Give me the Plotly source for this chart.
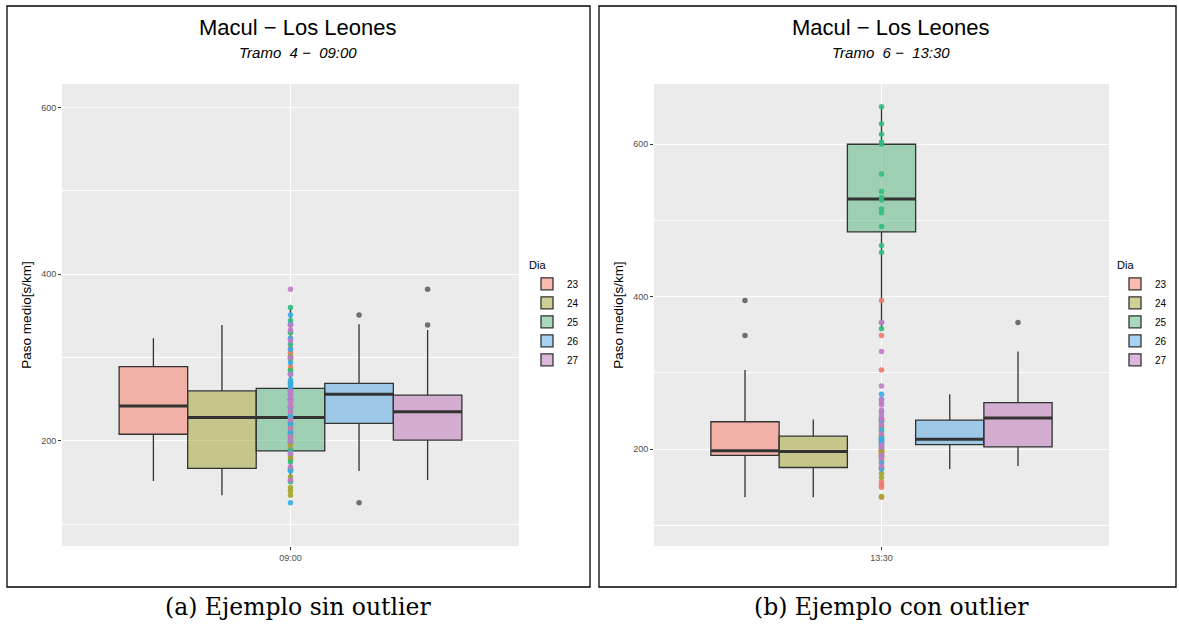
import plotly.graph_objects as go

# ---------------- data ----------------
days = ["23", "24", "25", "26", "27"]
box_colors = ["#F97761", "#A1A12D", "#51B379", "#4FA5E5", "#BB6FB3"]
point_colors = ["#F07A6A", "#A3A52A", "#2DBE7E", "#35ACE6", "#C27BC8"]

# Panel (a): Tramo 4 - 09:00
a_q1 = [208, 167, 188, 221, 201]
a_median = [242, 228, 228, 256, 235]
a_q3 = [289, 260, 263, 269, 255]
a_lower = [152, 135, 151, 164, 153]
a_upper = [323, 339, 360, 340, 333]
a_outliers = [[], [], [], [351, 126], [382, 339]]
a_points = [
    [323, 311, 306, 300, 289, 280, 270, 262, 250, 242, 235, 228, 215, 208, 198, 190, 183, 178, 165, 152],
    [339, 330, 302, 298, 285, 260, 250, 240, 229, 222, 216, 210, 204, 195, 180, 167, 157, 144, 140, 135],
    [360, 344, 330, 316, 300, 284, 270, 263, 250, 240, 228, 220, 210, 200, 189, 175, 165, 151],
    [351, 340, 323, 310, 294, 280, 273, 268, 265, 260, 256, 250, 240, 230, 221, 210, 200, 185, 164, 126],
    [382, 339, 333, 320, 300, 280, 260, 255, 250, 246, 241, 235, 225, 215, 205, 200, 185, 169, 153],
]

# Panel (b): Tramo 6 - 13:30
b_q1 = [192, 176, 485, 206, 203]
b_median = [198, 197, 528, 213, 241]
b_q3 = [236, 217, 600, 238, 261]
b_lower = [137, 137, 358, 174, 178]
b_upper = [304, 239, 649, 272, 328]
b_outliers = [[395, 349], [], [], [], [366]]
b_points = [
    [395, 349, 304, 240, 236, 230, 210, 200, 198, 197, 196, 194, 192, 190, 157, 153, 150, 137],
    [239, 229, 224, 218, 216, 210, 205, 200, 198, 197, 195, 190, 185, 176, 175, 168, 163, 138],
    [649, 627, 613, 603, 600, 561, 538, 530, 527, 515, 510, 492, 467, 458, 366, 358],
    [272, 265, 249, 238, 236, 225, 215, 214, 213, 212, 210, 207, 206, 203, 190, 182, 174],
    [366, 328, 283, 265, 261, 258, 251, 245, 241, 240, 232, 220, 205, 203, 192, 188, 178],
]

panels = [
    dict(tick="09:00", title="Macul − Los Leones", sub="Tramo  4 −  09:00",
         q1=a_q1, med=a_median, q3=a_q3, lo=a_lower, hi=a_upper,
         out=a_outliers, pts=a_points, caption="(a) Ejemplo sin outlier"),
    dict(tick="13:30", title="Macul − Los Leones", sub="Tramo  6 −  13:30",
         q1=b_q1, med=b_median, q3=b_q3, lo=b_lower, hi=b_upper,
         out=b_outliers, pts=b_points, caption="(b) Ejemplo con outlier"),
]

# ---------------- styling ----------------
W, H = 1179, 627
BOXW = 0.18
LINE = "#333333"
SANS = "Liberation Sans, Arial, sans-serif"


def hex_rgba(h, a):
    h = h.lstrip("#")
    return "rgba(%d,%d,%d,%.2f)" % (int(h[0:2], 16), int(h[2:4], 16), int(h[4:6], 16), a)


fig = go.Figure()

for p_i, P in enumerate(panels):
    xa = "x" if p_i == 0 else "x2"
    ya = "y" if p_i == 0 else "y2"
    leg = "legend" if p_i == 0 else "legend2"
    for i, d in enumerate(days):
        off = (i - 2) * BOXW
        fig.add_trace(go.Box(
            x=[off], q1=[P["q1"][i]], median=[P["med"][i]], q3=[P["q3"][i]],
            lowerfence=[P["lo"][i]], upperfence=[P["hi"][i]],
            width=BOXW, whiskerwidth=0, boxpoints=False,
            fillcolor=hex_rgba(box_colors[i], 0.5),
            line=dict(color=LINE, width=1.3),
            name=d, legend=leg, legendgroup=leg + d, showlegend=True,
            xaxis=xa, yaxis=ya, hoverinfo="skip",
        ))
    for i, d in enumerate(days):
        off = (i - 2) * BOXW
        fig.add_trace(go.Scatter(
            x=[off - BOXW / 2, off + BOXW / 2], y=[P["med"][i], P["med"][i]],
            mode="lines", line=dict(color=LINE, width=3),
            showlegend=False, xaxis=xa, yaxis=ya, hoverinfo="skip",
        ))
    for i, d in enumerate(days):
        if P["out"][i]:
            off = (i - 2) * BOXW
            fig.add_trace(go.Scatter(
                x=[off] * len(P["out"][i]), y=P["out"][i], mode="markers",
                marker=dict(color="rgba(70,70,70,0.75)", size=5.5),
                showlegend=False, xaxis=xa, yaxis=ya, hoverinfo="skip",
            ))
    for i, d in enumerate(days):
        fig.add_trace(go.Scatter(
            x=[0] * len(P["pts"][i]), y=P["pts"][i], mode="markers",
            marker=dict(color=hex_rgba(point_colors[i], 0.9), size=5.5),
            showlegend=False, xaxis=xa, yaxis=ya, hoverinfo="skip",
        ))

ydom = [(H - 546) / H, (H - 84) / H]
common_x = dict(range=[-0.6, 0.6], tickmode="array", tickvals=[0], showgrid=True,
                gridcolor="white", gridwidth=1.2, zeroline=False, ticks="outside",
                ticklen=3, tickcolor=LINE, tickfont=dict(family=SANS, size=9, color="#4D4D4D"),
                showline=False, fixedrange=True)
common_y = dict(tickmode="linear", tick0=0, dtick=200, showgrid=True, gridcolor="white",
                gridwidth=1.2, zeroline=False, ticks="outside", ticklen=3, tickcolor=LINE,
                tickfont=dict(family=SANS, size=9, color="#4D4D4D"),
                minor=dict(dtick=100, tick0=0, showgrid=True, gridcolor="white", gridwidth=0.5),
                title=dict(text="Paso medio[s/km]", font=dict(family=SANS, size=13.5, color="black"),
                           standoff=6),
                showline=False, domain=ydom)

leg_common = dict(xanchor="left", yanchor="top",
                  title=dict(text="Dia", font=dict(family=SANS, size=11)),
                  font=dict(family=SANS, size=10, color="black"), bgcolor="rgba(0,0,0,0)",
                  itemwidth=30, tracegroupgap=0)

fig.update_layout(
    width=W, height=H, margin=dict(l=0, r=0, t=0, b=0),
    paper_bgcolor="white", plot_bgcolor="#EBEBEB",
    xaxis=dict(common_x, domain=[62 / W, 519 / W], ticktext=[panels[0]["tick"]], anchor="y"),
    yaxis=dict(common_y, range=[74, 628], anchor="x"),
    xaxis2=dict(common_x, domain=[654 / W, 1109 / W], ticktext=[panels[1]["tick"]], anchor="y2"),
    yaxis2=dict(common_y, range=[73, 679], anchor="x2"),
    legend=dict(leg_common, x=527 / W, y=(H - 255) / H),
    legend2=dict(leg_common, x=1115 / W, y=(H - 255) / H),
    showlegend=True,
)

fig.add_shape(type="rect", xref="paper", yref="paper", x0=7 / W, x1=590 / W,
              y0=(H - 587) / H, y1=(H - 6) / H, line=dict(color="black", width=1.3))
fig.add_shape(type="rect", xref="paper", yref="paper", x0=599 / W, x1=1176 / W,
              y0=(H - 587) / H, y1=(H - 6) / H, line=dict(color="black", width=1.3))

centers = [298 / W, 891 / W]
for c, P in zip(centers, panels):
    fig.add_annotation(x=c, y=(H - 27) / H, xref="paper", yref="paper", text=P["title"],
                       xanchor="center", yanchor="middle",
                       showarrow=False, font=dict(family=SANS, size=22, color="black"))
    fig.add_annotation(x=c, y=(H - 53) / H, xref="paper", yref="paper",
                       text="<i>" + P["sub"] + "</i>", xanchor="center", yanchor="middle",
                       showarrow=False, font=dict(family=SANS, size=15, color="black"))
    fig.add_annotation(x=c, y=(H - 607) / H, xref="paper", yref="paper", text=P["caption"],
                       xanchor="center", yanchor="middle", showarrow=False,
                       font=dict(family="DejaVu Serif, serif", size=23.5, color="black"))

fig.write_html("out.html", config={"displayModeBar": False},
               post_script="document.body.style.margin='0px';")
